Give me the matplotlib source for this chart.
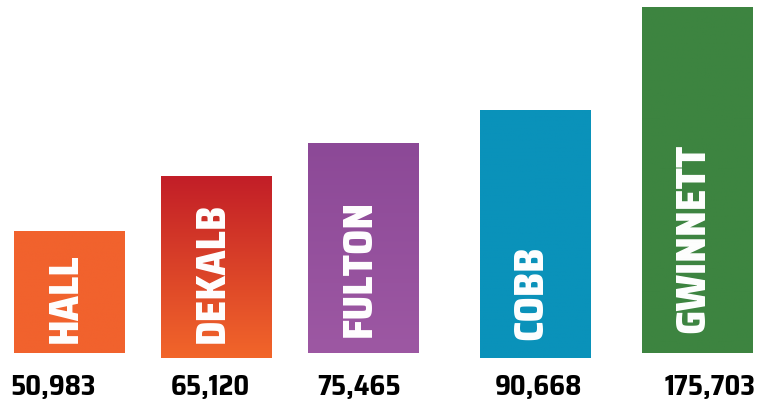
"""County bar chart: vertical names inside bars, values underneath."""
import numpy as np
import matplotlib
matplotlib.use("Agg")
import matplotlib.pyplot as plt
from matplotlib.colors import LinearSegmentedColormap

counties = ["HALL", "DEKALB", "FULTON", "COBB", "GWINNETT"]
values = [50983, 65120, 75465, 90668, 175703]
# visual bar heights as drawn in the original (not to scale with values)
bar_heights = [122, 182, 210, 248, 346]
bar_bases = [48, 43, 48, 43, 48]
bar_centers = [69.5, 216.5, 363.5, 535.5, 697.5]
label_centers = [53, 210, 359, 538, 710]
name_pads = [11, 16, 17, 19, 21]

top_colors = ["#F1622D", "#C21E27", "#8C4997", "#0A92BA", "#3D8440"]
bottom_colors = ["#F1622D", "#F2662A", "#9D58A3", "#0A92BA", "#3D8440"]

NAME_FONT = ["Saira SemiCondensed", "DejaVu Sans"]
VALUE_FONT = ["Saira SemiCondensed", "DejaVu Sans"]
BAR_W = 111

fig = plt.figure(figsize=(7.62, 4.02), dpi=100)
ax = fig.add_axes([0, 0, 1, 1])
ax.set_xlim(0, 762)
ax.set_ylim(0, 402)
ax.axis("off")

grad = np.linspace(0, 1, 256).reshape(-1, 1)
for i, name in enumerate(counties):
    xc, b, h = bar_centers[i], bar_bases[i], bar_heights[i]
    cmap = LinearSegmentedColormap.from_list(name, [bottom_colors[i], top_colors[i]])
    ax.imshow(grad, cmap=cmap, aspect="auto", origin="lower",
              extent=(xc - BAR_W / 2, xc + BAR_W / 2, b, b + h), zorder=1)
    ax.text(xc - 5, b + name_pads[i], name, rotation=90, ha="center", va="bottom",
            color="white", fontsize=30, fontweight="heavy", family=NAME_FONT, zorder=2)
    ax.text(label_centers[i], 14, f"{values[i]:,}", ha="center", va="center",
            color="black", fontsize=20, fontweight="bold", family=VALUE_FONT)

ax.set_xlim(0, 762)
ax.set_ylim(0, 402)
fig.savefig("out.png", dpi=100)
